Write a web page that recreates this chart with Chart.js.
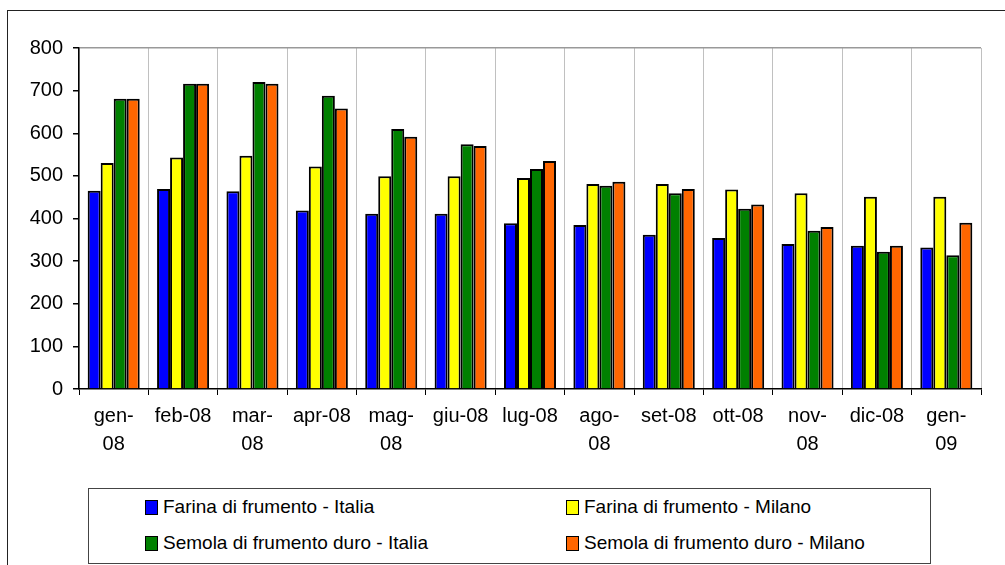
<!DOCTYPE html>
<html>
<head>
<meta charset="utf-8">
<script src="https://cdn.jsdelivr.net/npm/chart.js@4/dist/chart.umd.min.js"></script>
<style>
  body { margin: 0; background: #fff; }
  #wrap { position: relative; width: 1005px; height: 565px; overflow: hidden; font-family: "Liberation Sans", Arial, sans-serif; }
  #frame { position: absolute; left: 7px; top: 10px; width: 1100px; height: 700px; border: 1.5px solid #222; }
  #legend { position: absolute; left: 88px; top: 488px; width: 841px; height: 74px; border: 1px solid #444; background: #fff; }
  .item { position: absolute; font-size: 19px; color: #000; white-space: nowrap; line-height: 20px; }
  .sw { display: inline-block; width: 11px; height: 13px; border: 1px solid #000; margin-right: 5px; vertical-align: -2px; }
</style>
</head>
<body>
<div id="wrap">
  <div id="frame"></div>
  <canvas id="chart" width="1005" height="565" style="position:absolute;left:0;top:0"></canvas>
  <div id="legend"></div>
</div>
<script>
const categories = [['gen-', '08'], 'feb-08', ['mar-', '08'], 'apr-08', ['mag-', '08'], 'giu-08', 'lug-08',
                    ['ago-', '08'], 'set-08', 'ott-08', ['nov-', '08'], 'dic-08', ['gen-', '09']];
const seriesNames = ['Farina di frumento - Italia', 'Farina di frumento - Milano',
                     'Semola di frumento duro - Italia', 'Semola di frumento duro - Milano'];
const farinaItalia = [465, 469, 464, 419, 411, 411, 389, 385, 362, 354, 340, 336, 332];
const farinaMilano = [530, 543, 547, 522, 499, 499, 495, 481, 481, 468, 459, 451, 451];
const semolaItalia = [681, 716, 720, 688, 610, 574, 516, 477, 459, 423, 371, 322, 314];
const semolaMilano = [681, 716, 716, 658, 592, 570, 535, 486, 469, 433, 380, 336, 390];
const yTicks = [0, 100, 200, 300, 400, 500, 600, 700, 800];
const colors = ['#0000ff', '#ffff00', '#008000', '#ff6600'];

const seriesValues = [farinaItalia, farinaMilano, semolaItalia, semolaMilano];

const ctx = document.getElementById('chart').getContext('2d');
const chart = new Chart(ctx, {
    type: 'bar',
    data: {
        labels: categories,
        datasets: seriesNames.map((name, i) => ({
            label: name,
            data: seriesValues[i],
            backgroundColor: colors[i],
            borderColor: '#000',
            borderWidth: 2,
            categoryPercentage: 0.75,
            barPercentage: 1.0
        }))
    },
    options: {
        responsive: false,
        animation: false,
        layout: { padding: { left: 0, right: 24, top: 48, bottom: 0 } },
        plugins: {
            legend: { display: false },
            tooltip: { enabled: false }
        },
        scales: {
            x: {
                offset: true,
                grid: {
                    offset: true,
                    color: '#c0c0c0',
                    lineWidth: 1,
                    tickColor: '#000',
                    tickLength: 6
                },
                border: { color: '#000', width: 1.5 },
                ticks: {
                    color: '#000',
                    font: { family: '"Liberation Sans", Arial, sans-serif', size: 20, lineHeight: 1.38 },
                    padding: 8,
                    maxRotation: 0,
                    autoSkip: false
                },
                afterFit: s => { s.height = 176; }
            },
            y: {
                min: 0,
                max: 800,
                afterBuildTicks: s => { s.ticks = yTicks.map(v => ({ value: v })); },
                grid: {
                    color: c => c.tick && c.tick.value === 800 ? '#999' : 'rgba(0,0,0,0)',
                    lineWidth: 1.5,
                    tickColor: '#000',
                    tickLength: 6
                },
                border: { color: '#000', width: 1.5 },
                ticks: {
                    color: '#000',
                    font: { family: '"Liberation Sans", Arial, sans-serif', size: 20 },
                    padding: 10
                },
                afterFit: s => { s.width = 79; }
            }
        }
    }
});

// legend box in two columns, like the original
const legend = document.getElementById('legend');
const pos = [[56, 8], [477, 8], [56, 44], [477, 44]];
seriesNames.forEach((name, i) => {
    const el = document.createElement('div');
    el.className = 'item';
    el.style.left = pos[i][0] + 'px';
    el.style.top = pos[i][1] + 'px';
    el.innerHTML = '<span class="sw" style="background:' + colors[i] + '"></span>' + name;
    legend.appendChild(el);
});
</script>
</body>
</html>
